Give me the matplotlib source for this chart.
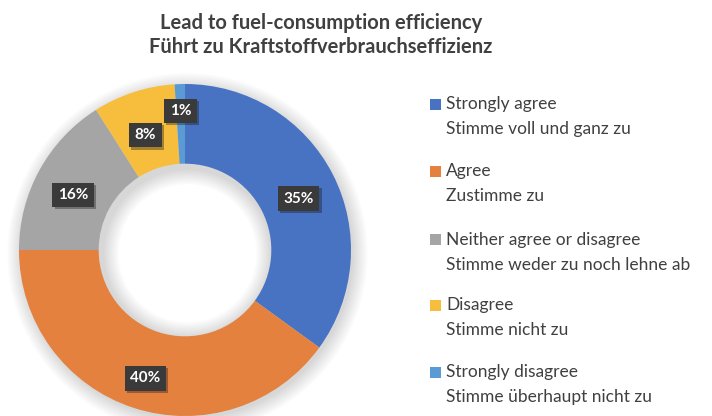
import matplotlib.pyplot as plt
from matplotlib.patches import Rectangle, Wedge
import matplotlib.patheffects as pe

labels_en = ["Strongly agree", "Agree", "Neither agree or disagree", "Disagree", "Strongly disagree"]
labels_de = ["Stimme voll und ganz zu", "Zustimme zu", "Stimme weder zu noch lehne ab",
             "Stimme nicht zu", "Stimme überhaupt nicht zu"]
shares = [35, 40, 16, 8, 1]
colors = ["#4872C2", "#E4813F", "#A5A5A5", "#F6BE3C", "#5B9BD5"]
title = "Lead to fuel-consumption efficiency\nFührt zu Kraftstoffverbrauchseffizienz"

plt.rcParams['font.family'] = ['Lato', 'DejaVu Sans']
txt_color = "#404040"

fig = plt.figure(figsize=(7.12, 4.16), dpi=100)
fig.text(321 / 712, 1 - 35 / 416, title, ha="center", va="center", fontsize=14.5,
         fontweight="bold", color=txt_color, linespacing=1.25)

# donut axes: centre ~(185, 250) px, outer radius ~166 px
ax = fig.add_axes([19 / 712, 0.0, 332 / 712, 332 / 416])
ax.axis("off")

# soft shadow
for k in range(8):
    ax.add_patch(Wedge((0.015, -0.02), 1.0 + k * 0.012, 0, 360, width=0.5 + k * 0.024,
                       facecolor="black", alpha=0.018, lw=0, clip_on=False))

wedges, _, autotexts = ax.pie(
    shares, colors=colors, startangle=90, counterclock=False, radius=1.0,
    wedgeprops=dict(width=0.48, linewidth=0),
    autopct="%d%%", pctdistance=0.77,
    textprops=dict(color="white", fontweight="bold", fontsize=11),
)
ax.set_xlim(-1, 1)
ax.set_ylim(-1, 1)
ax.set_aspect("equal")
for i, t in enumerate(autotexts):
    x, y = t.get_position()
    if shares[i] < 3:
        x, y = x * 1.14, y * 1.14
    t.set_position((x, y - 0.04))
    t.set_bbox(dict(boxstyle="square,pad=0.35", facecolor="#3a3a3a", edgecolor="none",
                    path_effects=[pe.withSimplePatchShadow(offset=(1.5, -1.5), alpha=0.35)]))

# legend
y_top = [104, 171, 240, 305, 372]
for i, (en, de) in enumerate(zip(labels_en, labels_de)):
    yf = 1 - y_top[i] / 416
    fig.add_artist(Rectangle((430 / 712, yf - 5.5 / 416), 11 / 712, 11 / 416,
                             facecolor=colors[i], edgecolor="none", transform=fig.transFigure))
    fig.text(446 / 712, yf, en, ha="left", va="center", fontsize=12.5, color=txt_color)
    fig.text(446 / 712, yf - 25 / 416, de, ha="left", va="center", fontsize=12.5, color=txt_color)

fig.savefig("out.png", dpi=100)
